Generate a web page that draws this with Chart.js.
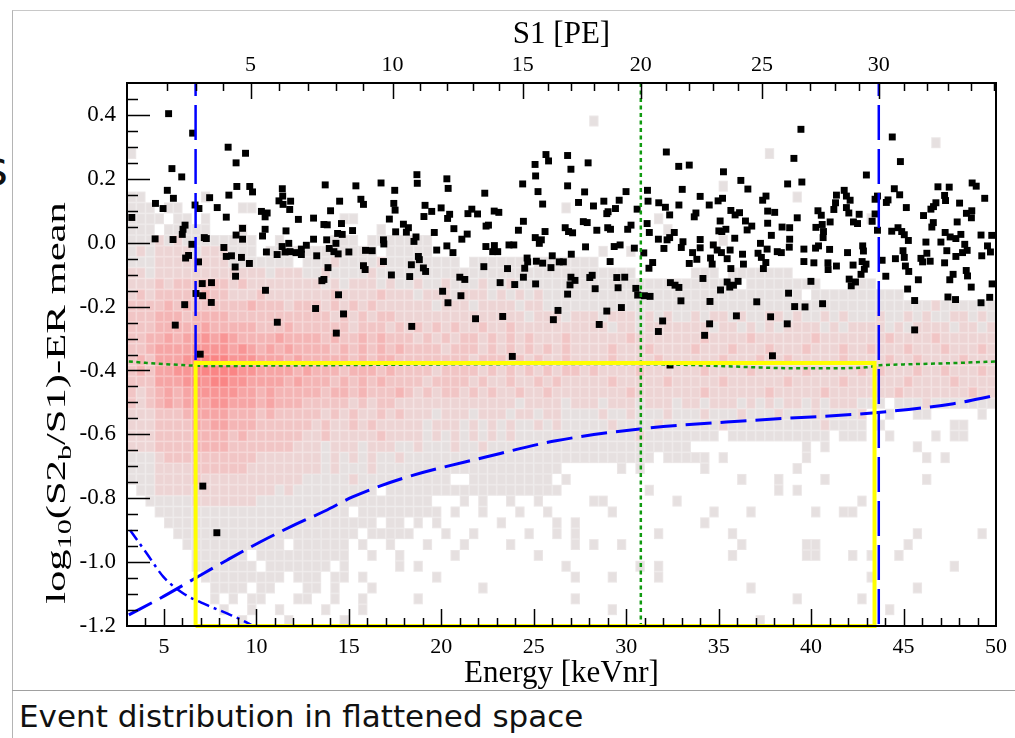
<!DOCTYPE html>
<html lang="en">
<head>
<meta charset="UTF-8">
<title>Event distribution in flattened space</title>
<script src="https://cdn.jsdelivr.net/npm/chart.js"></script>
<style>
  body { margin: 0; background: #fff; width: 1015px; height: 738px; overflow: hidden; position: relative; font-family: "DejaVu Sans", sans-serif; }
  .frame { position: absolute; left: 12px; top: 10px; width: 1003px; height: 728px; border-left: 1px solid #b4b4b4; border-top: 1px solid #c8c8c8; }
  .sep { position: absolute; left: 12px; top: 690px; width: 1003px; border-top: 1px solid #a0a0a0; }
  .caption { position: absolute; left: 19px; top: 697px; font-size: 31px; line-height: 38px; color: #111; white-space: nowrap; }
  .cut { position: absolute; left: -17px; top: 140px; font-size: 48px; color: #111; }
  #chart { position: absolute; left: 13px; top: 11px; }
</style>
</head>
<body>
<div class="frame"></div>
<div class="cut">s</div>
<canvas id="chart" width="1002" height="678"></canvas>
<div class="sep"></div>
<div class="caption">Event distribution in flattened space</div>

<script>
// axis ticks
const energyTicks = [5, 10, 15, 20, 25, 30, 35, 40, 45, 50];
const ratioTicks = [-1.2, -1.0, -0.8, -0.6, -0.4, -0.2, 0.0, 0.2, 0.4];
const s1Values = [2, 3, 4, 5, 6, 7, 8, 9, 10, 11, 12, 13, 14, 15, 16, 17, 18, 19, 20,
                  21, 22, 23, 24, 25, 26, 27, 28, 29, 30, 31, 32, 33, 34, 35];
const s1Energies = [5.15, 6.72, 8.17, 9.68, 11.24, 12.81, 14.32, 15.77, 17.36, 18.85, 20.33, 21.71,
                    23.11, 24.40, 25.75, 26.99, 28.26, 29.53, 30.79, 32.17, 33.41, 34.70, 36.05, 37.35,
                    38.64, 39.94, 41.28, 42.58, 43.66, 45.01, 46.25, 47.43, 48.67, 49.91];
const s1Labels = [5, 10, 15, 20, 25, 30];

// 2D histogram: bins of 0.5 keVnr (3..50) x 0.034 (-1.2..0.5), top row first
// '.' empty, '1' grey, '2'..'7' pink -> red
const binX0 = 3, binW = 0.5, binY0 = -1.2, binH = 0.034;
const heatRows = [
  ".......... .......... .......... .......... .......... .......... .......... .......... .......... ....",
  ".......... .......... .......... .......... .......... .......... .......... .......... .......... ....",
  ".......... .......... .......... .......... .......... .......... .......... .......... .......... ....",
  ".......... .......... .......... .......... .......... 1......... .......... .......... .......... ....",
  ".......... .......... .......... .......... .......... .......... .......... .......... .......... ....",
  ".......... .......... .......... .......... .......... .......... .......... .......... .......1.. ....",
  "1......... .......... .......... .......... .......... .......... .........1 .......... .......... ....",
  ".......... .......... .......... .......... .......... .......... .......... .......... .......... ....",
  ".......... .......... .......... .......... .......... .......... .......... .......... .......... ....",
  ".......... .......... .......... .......... .......... .......... ....1..... .......... .......... ....",
  "11......1. .......... .......... .......... .......... .......... .......... ..1....... .......... ....",
  "111.11.... ..11...... .......... .......... .......1.. .......... .......... .......... .......... ....",
  "1111.11.1. .......... ...11..... .......... .......... .......1.. .......... .......... 1......... ....",
  "111.11111. ..1....... .......1.. .......... .......... ........1. .......... .......... .......... ....",
  "1112121111 1111..1... ..111.1111 111....... .......... .......... ....1..... .......... .......... ....",
  "1212222122 2111.11111 1111111.11 111....... .......... .1..1..... .......... .......... .......... ....",
  "1112222222 21111111.1 1121111211 111111.111 111.111111 1......... .......... .......... .......... ....",
  "2212222222 2222212221 1211112111 1111111111 1111111111 11111..... .111.11111 11........ .......... ....",
  "2223233333 3232222222 2121222121 1211211121 1211111111 1111111111 111111.111 11111...11 1......... ....",
  "2323333343 3222322222 2232222322 2122212221 2121211111 1111111111 1111111111 111.111111 1111...... ....",
  "3333434333 3334333233 3232323222 2221222122 2212211111 1111111111 1111111111 1111111111 1111111211 1111",
  "3334443444 4333333333 3323232332 2222222222 2221222122 2122212121 1212212112 2121121211 1211212112 2121",
  "3334444454 4444333433 3333233323 2323232232 2322222222 2212212222 2221221212 1222212122 2212122221 2212",
  "3344545565 6544445444 4343343433 3232323323 2323222322 2222322222 2232222322 2222322222 2232222322 2222",
  "3345555666 6565454544 4434343434 3333233323 2323232322 2232223222 2322232223 2223222322 3222322232 2232",
  "3435556777 7666555454 4444343443 3333333233 3232322322 2232222322 2222322232 2322222322 2232232222 3222",
  "3435566777 7766555545 4443444343 3332333323 2323232332 3222232222 2232222322 2223222223 2322232232 2232",
  "3335556767 7665555454 4434343433 3323333232 2322323222 2232222232 2222322222 2322222322 2222322223 2222",
  "3234545666 6655454444 4344343334 3232332323 2232232222 2222322222 2232222223 2222232222 2223222222 2322",
  "3234545656 6555454443 3333232332 2222222222 2212222122 2122212221 2212221212 1221212221 11.1112111 1111",
  "2223334555 5444343333 3232322323 2221222122 2122122111 1211211121 1121112111 2111211112 ..1..11... ..1.",
  "2223333545 5444333333 2322323222 2212221212 1211212111 1121111211 1111211111 1111121111 .1.......1 1...",
  "2223333444 4343333332 2322222322 2212121212 1211111111 1111121111 1111.11111 111111.111 ..1....1.1 1...",
  "2223333444 4333333322 2122212221 1211121121 1111111111 1111111111 1......... ...1.1.... .....1.... ....",
  "1112333333 3333222222 2121212112 1111111111 1111111111 1111111.11 111.1..... ...1...... ......1.1. ....",
  "1112222333 3332222222 2121112111 1111111111 1111111... ...1.1.... ..1....... ..1....... .......... ....",
  "1112222322 2222222221 1111211111 11111..111 111111.1.. .......... ......1... 1....1.... ......1... ....",
  ".112222222 2222221211 1111111.11 1111111111 1111111... ......1... .......... 1.1....... .......... ....",
  "..11111222 2222111111 1111111111 111...1.1. .1..1..... 11.......1 .......... .........1 .......... ....",
  "...1111111 1111111111 1111.11111 1111.1..1. ..1..1.... ..1....... ...1...1.. ....1..11. .......... ....",
  "....111111 1111111111 1111111.11 .1.1...... 1.....1.1. .......... ..1....... .......... .......... ....",
  ".....11111 1111111111 11111.1111 1...1..1.. ...1..1.1. .......1.. .....1.... .......... .....1.... ..1.",
  "......1111 1111111.11 1111.1..1. ..1...1... .1......1. 1..1...... ......1... ...11..... ....1..... ....",
  ".......111 111.111111 1111..1..1 .....1.... ....1..... .......... .....1.... ...11...1. 1..1...... ....",
  ".......111 1111.11111 11.1.....1 .1........ .......1.. .....1.1.. .......... .......... .........1 ....",
  "........11 1111111.11 1.11.1.... ...1...... ........1. ..1....1.. .......... .......... 1......... ....",
  ".........1 111.11...1 1.1...1... ........1. .......... .......... .......1.. .......... .....1.... ....",
  ".........1 .1.11...11 ..1..1.... .1........ ........1. .......... .......... ..1......1 .......... ....",
  ".......... 1..1..1... .1...1.... .......... .......... ..1....... .......... .......... ..1....... ....",
  ".......... ..1....1.. ...1...... .......... .......... .......... ........1. .......... .......... ...."
];
const heatColors = { '1': '#e6e0e0', '2': '#edd4d4', '3': '#f1c5c5', '4': '#f4b5b5', '5': '#f6a5a5', '6': '#f89595', '7': '#fa8585' };

// events [energy keVnr, log10(S2b/S1) - ER mean]
const events = [
  [5.25,0.404],[6.55,0.343],[8.47,0.299],[9.41,0.280],[8.90,0.250],[5.43,0.232],[5.96,0.206],[8.94,0.176],[9.64,0.176],[9.79,0.159],
  [11.40,0.169],[13.72,0.181],[5.18,0.164],[5.51,0.139],[8.51,0.149],[7.47,0.141],[11.42,0.146],[11.22,0.131],[11.85,0.130],[4.54,0.123],
  [4.95,0.107],[6.68,0.118],[6.89,0.107],[7.88,0.110],[11.44,0.120],[11.80,0.104],[10.27,0.098],[10.58,0.093],[10.47,0.081],[3.26,0.079],
  [8.37,0.080],[12.27,0.073],[13.09,0.077],[13.65,0.057],[13.83,0.056],[14.01,0.100],[6.14,0.055],[6.03,0.042],[9.25,0.045],[10.47,0.042],
  [11.60,0.037],[5.99,0.026],[8.90,0.024],[10.33,0.021],[4.52,0.012],[5.49,0.010],[7.18,0.016],[7.29,0.013],[9.25,0.011],[6.51,-0.005],
  [8.24,-0.015],[13.09,0.011],[13.80,0.009],[11.75,-0.002],[11.39,-0.012],[13.94,-0.018],[12.70,-0.008],[10.54,-0.029],[11.12,-0.037],[11.55,-0.029],
  [11.82,-0.028],[12.14,-0.031],[12.43,-0.020],[12.43,-0.037],[13.26,-0.041],[14.19,-0.028],[6.17,-0.048],[6.33,-0.040],[6.87,-0.060],[8.37,-0.043],
  [8.65,-0.041],[9.19,-0.046],[9.62,-0.065],[8.85,-0.076],[8.87,-0.105],[13.87,-0.078],[13.54,-0.119],[13.65,-0.115],[7.07,-0.128],[7.57,-0.125],
  [6.73,-0.159],[7.09,-0.166],[10.49,-0.149],[7.56,-0.187],[6.12,-0.194],[13.20,-0.206],[5.61,-0.258],[11.13,-0.249],[6.96,-0.349],[7.10,-0.762],
  [7.86,-0.908],
  [25.66,0.276],[25.80,0.256],[25.07,0.245],[25.10,0.209],[25.23,0.160],[25.48,0.121],[24.40,0.184],[22.35,0.155],[18.68,0.213],[18.70,0.186],
  [20.30,0.200],[20.37,0.170],[16.74,0.187],[15.38,0.178],[17.48,0.164],[14.50,0.130],[15.65,0.136],[15.79,0.120],[17.43,0.123],[17.50,0.102],
  [19.12,0.117],[19.48,0.098],[19.06,0.082],[19.99,0.109],[20.45,0.089],[20.34,0.076],[21.65,0.105],[21.44,0.091],[21.96,0.090],[22.86,0.099],
  [23.11,0.095],[17.19,0.074],[14.60,0.060],[17.95,0.058],[18.22,0.047],[18.11,0.033],[17.53,0.034],[14.39,0.029],[14.64,0.026],[15.20,0.038],
  [19.62,0.032],[20.68,0.044],[21.40,0.027],[21.11,0.011],[22.55,0.055],[22.42,0.052],[24.44,0.067],[24.17,0.039],[25.61,0.035],[25.08,0.016],
  [25.30,-0.002],[25.41,0.009],[18.63,0.018],[18.52,0.004],[16.87,0.009],[16.89,-0.004],[14.30,-0.002],[14.42,-0.035],[15.00,-0.029],[15.90,-0.024],
  [16.26,-0.025],[19.75,-0.023],[20.30,-0.010],[20.63,-0.031],[22.41,-0.012],[22.87,-0.009],[22.78,-0.028],[23.05,-0.028],[23.66,-0.007],[23.92,-0.007],
  [18.76,-0.043],[18.81,-0.053],[16.87,-0.059],[18.38,-0.069],[15.79,-0.072],[15.88,-0.084],[19.03,-0.079],[19.15,-0.090],[17.30,-0.101],[18.29,-0.106],
  [22.30,-0.075],[23.58,-0.081],[24.51,-0.080],[24.64,-0.048],[24.67,-0.060],[25.14,-0.058],[25.48,-0.064],[25.93,-0.078],[26.00,-0.041],[21.00,-0.108],
  [21.27,-0.115],[23.18,-0.125],[23.97,-0.131],[24.44,-0.108],[25.10,-0.129],[14.44,-0.163],[20.07,-0.152],[21.06,-0.166],[20.36,-0.188],[14.71,-0.223],
  [21.85,-0.238],[23.32,-0.231],[26.06,-0.241],[14.32,-0.283],[18.40,-0.262],[23.84,-0.356],
  [32.17,0.284],[26.83,0.273],[27.94,0.250],[27.01,0.230],[32.84,0.239],[33.41,0.243],[35.26,0.222],[36.20,0.195],[36.58,0.168],[26.83,0.178],
  [27.75,0.159],[29.99,0.160],[31.15,0.164],[33.03,0.167],[27.42,0.126],[28.23,0.115],[28.79,0.130],[29.62,0.133],[29.42,0.107],[28.95,0.091],
  [29.02,0.097],[30.59,0.105],[31.18,0.130],[31.76,0.125],[32.12,0.111],[32.35,0.087],[32.85,0.118],[34.00,0.145],[34.49,0.118],[34.97,0.131],
  [35.21,0.139],[33.77,0.093],[33.68,0.081],[35.66,0.101],[35.89,0.087],[36.13,0.094],[36.45,0.068],[36.54,0.040],[36.79,0.052],[35.08,0.068],
  [35.01,0.037],[35.17,0.035],[35.39,0.042],[37.56,0.146],[37.38,0.133],[37.65,0.099],[37.65,0.061],[37.85,0.023],[26.70,0.047],[26.88,0.035],
  [27.10,0.031],[27.68,0.066],[27.89,0.063],[28.41,0.039],[29.00,0.047],[29.15,0.042],[30.08,0.042],[30.26,0.055],[31.13,0.060],[31.25,0.032],
  [32.60,0.032],[31.74,0.011],[32.21,0.009],[32.35,0.016],[32.04,-0.018],[33.07,0.003],[32.98,-0.015],[34.00,0.010],[34.00,-0.016],[34.71,-0.007],
  [34.92,-0.023],[35.15,-0.031],[35.62,-0.023],[35.87,0.014],[36.29,-0.036],[37.26,-0.002],[37.13,-0.033],[37.31,-0.046],[37.62,-0.020],[36.34,-0.067],
  [37.42,-0.081],[37.55,-0.062],[33.59,-0.031],[33.82,-0.052],[33.41,-0.065],[34.56,-0.048],[34.65,-0.067],[35.46,-0.050],[35.66,-0.081],[27.80,-0.013],
  [29.35,-0.012],[29.67,-0.007],[30.44,-0.017],[30.95,-0.032],[27.03,-0.036],[26.38,-0.060],[26.60,-0.060],[29.13,-0.059],[31.43,-0.062],[31.23,-0.080],
  [27.01,-0.108],[27.23,-0.118],[26.96,-0.132],[28.03,-0.109],[28.16,-0.102],[28.32,-0.144],[29.49,-0.109],[29.92,-0.108],[29.56,-0.141],[26.83,-0.161],
  [30.52,-0.143],[30.62,-0.164],[30.98,-0.166],[31.29,-0.168],[32.39,-0.125],[32.64,-0.133],[32.85,-0.140],[32.96,-0.182],[34.15,-0.112],[35.10,-0.148],
  [35.46,-0.123],[35.60,-0.139],[35.80,-0.133],[36.05,-0.121],[34.53,-0.184],[37.06,-0.185],[26.31,-0.212],[29.74,-0.203],[28.95,-0.214],[28.54,-0.256],
  [35.96,-0.229],[37.81,-0.232],[31.97,-0.245],[31.74,-0.278],[34.51,-0.254],[34.24,-0.290],[37.91,-0.354],[32.37,-0.383],
  [39.45,0.355],[44.39,0.331],[39.07,0.264],[44.83,0.254],[42.99,0.212],[38.73,0.184],[39.50,0.190],[41.37,0.149],[41.79,0.164],[41.91,0.146],
  [42.11,0.133],[41.32,0.125],[41.23,0.104],[41.91,0.110],[42.04,0.093],[42.60,0.089],[40.37,0.100],[40.55,0.086],[41.03,0.065],[39.25,0.078],
  [38.03,0.095],[38.43,0.049],[38.84,0.047],[38.84,0.011],[38.82,-0.014],[40.26,0.048],[40.60,0.057],[40.67,0.035],[40.65,0.016],[40.40,-0.010],
  [40.24,-0.017],[41.00,-0.021],[39.61,-0.020],[42.29,0.065],[42.51,0.060],[43.30,0.067],[43.46,0.090],[43.59,0.146],[43.46,0.136],[43.59,0.039],
  [44.16,0.134],[44.07,0.126],[44.50,0.169],[44.79,0.150],[45.15,0.110],[44.36,0.036],[44.70,0.047],[44.90,0.035],[45.04,0.025],[45.26,0.007],
  [46.08,0.085],[46.48,0.105],[46.62,0.113],[46.75,0.125],[46.86,0.175],[47.47,0.174],[47.22,0.148],[47.27,0.132],[48.03,0.124],[48.71,0.187],
  [48.93,0.177],[49.39,0.139],[48.40,0.092],[48.69,0.100],[48.67,0.078],[47.90,0.065],[46.61,0.063],[46.53,0.049],[47.25,0.032],[47.52,0.018],
  [47.83,0.013],[48.10,0.026],[48.31,-0.005],[49.19,0.024],[49.77,0.023],[46.21,0.002],[47.02,0.002],[47.34,-0.025],[47.83,-0.043],[48.19,-0.031],
  [48.44,-0.024],[49.54,-0.010],[49.70,-0.029],[49.23,-0.041],[44.97,-0.025],[45.04,-0.046],[44.56,-0.050],[45.10,-0.073],[45.28,-0.090],[46.26,-0.033],
  [45.94,-0.049],[46.03,-0.060],[46.44,-0.058],[47.22,-0.063],[47.68,-0.099],[47.50,-0.116],[48.39,-0.087],[48.46,-0.104],[49.79,-0.129],[48.66,-0.139],
  [49.66,-0.171],[49.19,-0.188],[47.40,-0.170],[47.81,-0.178],[45.80,-0.116],[45.22,-0.145],[45.60,-0.181],[45.60,-0.273],[43.84,-0.055],[44.04,-0.105],
  [42.79,-0.010],[42.83,-0.026],[41.97,-0.031],[42.76,-0.059],[42.97,-0.067],[42.27,-0.070],[42.88,-0.083],[42.70,-0.099],[41.37,-0.073],[40.91,-0.063],
  [40.92,-0.084],[40.15,-0.063],[39.61,-0.059],[42.06,-0.114],[42.17,-0.135],[42.40,-0.123],[39.99,-0.121],[38.78,-0.158],[39.11,-0.200],[39.67,-0.201],
  [40.62,-0.191],[38.71,-0.254],[38.17,-0.028],[38.39,-0.031]
];

// lines
const s1CutLow = 6.71, s1CutHigh = 43.66, s1Mid = 30.79;
const boxE = [6.71, 6.71, 43.43, 43.43, 6.71];
const boxV = [-1.2, -0.377, -0.377, -1.2, -1.2];
const erMeanE = [3.1, 4, 5, 6, 6.7, 8, 10, 15, 20, 25, 30, 33, 35, 37, 39, 41, 43, 43.7, 45, 47, 50];
const erMeanV = [-0.372, -0.376, -0.38, -0.383, -0.385, -0.386, -0.385, -0.383, -0.381, -0.38, -0.38, -0.382, -0.386, -0.39, -0.393, -0.393, -0.39, -0.384, -0.381, -0.378, -0.372];
const nrLineE = [3.1, 4.8, 6.76, 8.4, 10.2, 12, 13.7, 15.2, 17.9, 22.4, 26.2, 30.9, 36.9, 43.3, 47.7, 50];
const nrLineV = [-1.165, -1.113, -1.048, -0.994, -0.937, -0.885, -0.84, -0.796, -0.738, -0.671, -0.62, -0.582, -0.556, -0.533, -0.504, -0.478];
const s2CutE = [3.17, 4.07, 4.97, 6.05, 7.3, 8.38, 9.64, 9.8];
const s2CutV = [-0.9, -0.973, -1.046, -1.098, -1.134, -1.16, -1.194, -1.2];

const serif = "'Liberation Serif', 'Times New Roman', serif";
const pts = (xs, ys) => xs.map((x, i) => ({ x, y: ys[i] }));

const heatmapPlugin = {
  id: 'heatmap',
  beforeDatasetsDraw(chart) {
    const { ctx, chartArea: a, scales: { x, y } } = chart;
    ctx.save();
    ctx.beginPath();
    ctx.rect(a.left, a.top, a.right - a.left, a.bottom - a.top);
    ctx.clip();
    heatRows.forEach((row, i) => {
      const cells = row.replace(/\s/g, '');
      const v0 = binY0 + (heatRows.length - 1 - i) * binH;
      const yt = y.getPixelForValue(v0 + binH), yb = y.getPixelForValue(v0);
      for (let c = 0; c < cells.length; c++) {
        const ch = cells[c];
        if (ch === '.') continue;
        const xl = x.getPixelForValue(binX0 + c * binW), xr = x.getPixelForValue(binX0 + (c + 1) * binW);
        ctx.fillStyle = heatColors[ch];
        ctx.fillRect(xl, yt, xr - xl, yb - yt);
        ctx.strokeStyle = 'rgba(255,255,255,0.22)';
        ctx.lineWidth = 1;
        ctx.strokeRect(xl + 0.5, yt + 0.5, xr - xl - 1, yb - yt - 1);
      }
    });
    ctx.restore();
  }
};

const framePlugin = {
  id: 'frame',
  afterDatasetsDraw(chart) {
    const { ctx, chartArea: a, scales: { x, x2, y } } = chart;
    ctx.save();
    ctx.strokeStyle = '#000';
    ctx.lineWidth = 1.5;
    ctx.beginPath();
    // bottom axis ticks: major every 5, minor every 1
    for (let e = 4; e < 50; e++) {
      const px = Math.round(x.getPixelForValue(e)) + 0.5;
      const len = e % 5 === 0 ? 17 : 8;
      ctx.moveTo(px, a.bottom); ctx.lineTo(px, a.bottom - len);
    }
    // top axis (S1)
    s1Values.forEach((s, i) => {
      const px = Math.round(x2.getPixelForValue(s1Energies[i])) + 0.5;
      const len = s1Labels.includes(s) ? 16 : 8;
      ctx.moveTo(px, a.top); ctx.lineTo(px, a.top + len);
    });
    // left axis: major 0.2, minor 0.05
    for (let k = -23; k <= 9; k++) {
      const v = k * 0.05;
      const py = Math.round(y.getPixelForValue(v)) + 0.5;
      const len = k % 4 === 0 ? 23 : 11;
      ctx.moveTo(a.left, py); ctx.lineTo(a.left + len, py);
    }
    ctx.stroke();
    ctx.lineWidth = 2;
    ctx.strokeRect(a.left, a.top, a.right - a.left, a.bottom - a.top);

    // rotated y title with subscripts
    const big = 27, small = 19;
    const parts = [
      { t: 'log', s: big, dy: 0 }, { t: '10', s: small, dy: 8 },
      { t: '(S2', s: big, dy: 0 }, { t: 'b', s: small, dy: 8 },
      { t: '/S1)-ER mean', s: big, dy: 0 }
    ];
    let total = 0;
    parts.forEach(p => { ctx.font = p.s + 'px ' + serif; p.w = ctx.measureText(p.t).width; total += p.w; });
    const stretch = 1.58;
    ctx.translate(45, 392);
    ctx.rotate(-Math.PI / 2);
    ctx.scale(stretch, 1);
    ctx.fillStyle = '#000';
    ctx.textBaseline = 'middle';
    let cx = -total / 2;
    parts.forEach(p => {
      ctx.font = p.s + 'px ' + serif;
      ctx.fillText(p.t, cx, p.dy);
      cx += p.w;
    });
    ctx.restore();
  }
};

new Chart(document.getElementById('chart'), {
  type: 'scatter',
  data: {
    datasets: [
      { data: pts(boxE, boxV), showLine: true, borderColor: '#ffff00', borderWidth: 4, pointRadius: 0, clip: false },
      { data: [{ x: s1CutLow, y: 0.5 }, { x: s1CutLow, y: -1.2 }], showLine: true, borderColor: '#0000ff', borderWidth: 2.5, borderDash: [35, 9], borderDashOffset: 22, pointRadius: 0 },
      { data: [{ x: s1CutHigh, y: 0.5 }, { x: s1CutHigh, y: -1.2 }], showLine: true, borderColor: '#0000ff', borderWidth: 2.5, borderDash: [35, 9], borderDashOffset: 22, pointRadius: 0 },
      { data: [{ x: s1Mid, y: 0.5 }, { x: s1Mid, y: -1.2 }], showLine: true, borderColor: '#109a10', borderWidth: 2.5, borderDash: [4, 3.5], pointRadius: 0 },
      { data: pts(erMeanE, erMeanV), showLine: true, borderColor: '#109a10', borderWidth: 2.5, borderDash: [4, 3.5], pointRadius: 0, tension: 0.4, cubicInterpolationMode: 'monotone' },
      { data: pts(nrLineE, nrLineV), showLine: true, borderColor: '#0000ff', borderWidth: 3, borderDash: [26, 9], pointRadius: 0, cubicInterpolationMode: 'monotone' },
      { data: pts(s2CutE, s2CutV), showLine: true, borderColor: '#0000ff', borderWidth: 2.5, borderDash: [12, 5, 3, 5], pointRadius: 0, cubicInterpolationMode: 'monotone' },
      { data: events.map(p => ({ x: p[0], y: p[1] })), pointStyle: 'rect', pointRadius: 4.9, backgroundColor: '#000', borderWidth: 0 }
    ]
  },
  options: {
    responsive: false,
    animation: false,
    layout: { padding: { left: 0, right: 16, top: 0, bottom: 0 } },
    plugins: { legend: { display: false }, tooltip: { enabled: false } },
    scales: {
      x: {
        type: 'linear', position: 'bottom', min: 3, max: 50,
        afterBuildTicks: s => { s.ticks = energyTicks.map(v => ({ value: v })); },
        afterFit: s => { s.height = 63; },
        grid: { display: false, drawTicks: false }, border: { display: false },
        ticks: { color: '#000', font: { family: serif, size: 22 }, padding: 8, maxRotation: 0, autoSkip: false },
        title: { display: true, text: 'Energy [keVnr]', color: '#000', font: { family: serif, size: 31, lineHeight: 1 }, padding: { top: 0, bottom: 0 } }
      },
      x2: {
        type: 'linear', position: 'top', min: 3, max: 50,
        afterBuildTicks: s => { s.ticks = s1Energies.map(v => ({ value: v })); },
        afterFit: s => { s.height = 72; },
        grid: { display: false, drawTicks: false }, border: { display: false },
        ticks: { color: '#000', font: { family: serif, size: 22 }, padding: 5, maxRotation: 0, autoSkip: false,
                 callback: (v, i) => (s1Labels.includes(s1Values[i]) ? String(s1Values[i]) : '') },
        title: { display: true, text: 'S1 [PE]', color: '#000', font: { family: serif, size: 31, lineHeight: 1 }, padding: { top: 8, bottom: 0 } }
      },
      y: {
        type: 'linear', min: -1.2, max: 0.5,
        afterBuildTicks: s => { s.ticks = ratioTicks.map(v => ({ value: v })); },
        afterFit: s => { s.width = 114; },
        grid: { display: false, drawTicks: false }, border: { display: false },
        ticks: { color: '#000', font: { family: serif, size: 23 }, padding: 11, callback: v => v.toFixed(1) }
      }
    }
  },
  plugins: [heatmapPlugin, framePlugin]
});
</script>
</body>
</html>
